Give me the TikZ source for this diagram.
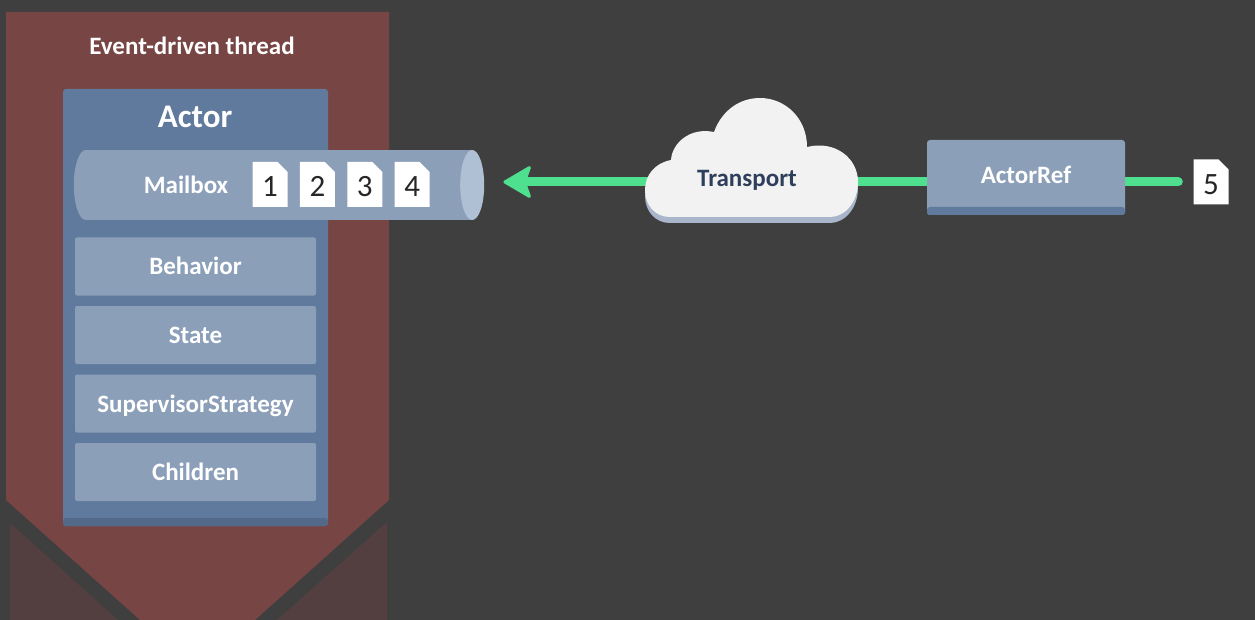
\documentclass[tikz,border=0pt]{standalone}
\usepackage{xcolor}
\usepackage{fontspec}
\setmainfont{Carlito}
\usepackage{tikz}
\usetikzlibrary{shapes,arrows.meta,backgrounds}
\definecolor{slate}{HTML}{3F3F3F}
\definecolor{threadred}{HTML}{784545}
\definecolor{threaddark}{HTML}{533F3F}
\definecolor{actorblue}{HTML}{5F7A9C}
\definecolor{actorband}{HTML}{52698A}
\definecolor{paleblue}{HTML}{8C9FB9}
\definecolor{capblue}{HTML}{B0C0D4}
\definecolor{wiregreen}{HTML}{4EE08F}
\definecolor{cloudshade}{HTML}{A8B5CB}
\definecolor{inkblue}{HTML}{2E3F5C}
\newcommand{\cloudoutline}{(670,217) .. controls (655,217) and (645,205) .. (645,190)
    .. controls (645,175) and (655,163) .. (671,160)
    .. controls (672,143) and (690,127) .. (714,132)
    .. controls (722,110) and (740,98) .. (760,98)
    .. controls (785,98) and (807,118) .. (807,147)
    .. controls (835,140) and (858,158) .. (858,182)
    .. controls (858,202) and (845,217) .. (830,217) -- cycle}
\tikzstyle{block} = [rectangle, fill=paleblue, rounded corners=2pt, text=white,
    font=\fontsize{25}{27}\selectfont\bfseries, minimum width=241pt, minimum height=58pt,
    text height=22pt, text depth=5pt, inner sep=0pt]
\tikzset{banded/.style={rectangle, rounded corners=3pt, inner sep=0pt,
    path picture={\fill [#1] (path picture bounding box.south west)
        rectangle ([yshift=8pt]path picture bounding box.south east);}}}
\tikzstyle{caption} = [text=white, inner sep=0pt, font=\fontsize{25}{27}\selectfont\bfseries]
\tikzstyle{tubeend} = [ellipse, inner sep=0pt, minimum width=24pt, minimum height=70pt]
\tikzstyle{letter} = [chamfered rectangle, chamfered rectangle corners=north east,
    chamfered rectangle sep=5pt, fill=white, text=black!85, inner sep=0pt,
    minimum width=35pt, minimum height=45pt, text height=25pt, text depth=0pt,
    font=\fontsize{31}{33}\selectfont]
\tikzstyle{line} = [draw=wiregreen, line width=9pt]

\begin{document}
\begin{tikzpicture}[x=1pt, y=-1pt, node distance=68.5pt]
    \useasboundingbox (0,0) rectangle (1255,620);
    \begin{pgfonlayer}{background}
    \fill [slate] (0,0) rectangle (1255,620);
    \end{pgfonlayer}

    % Thread
    \fill [threaddark] (10,523) -- (118,620) -- (10,620) -- cycle;
    \fill [threaddark] (387,522) -- (277,620) -- (387,620) -- cycle;
    \fill [threadred] (6,12) -- (389,12) -- (389,500) -- (255,620) -- (140,620) -- (6,500) -- cycle;
    \node [caption] (thread) at (192,45.5) {Event-driven thread};

    % Place nodes
    \node [banded=actorband, fill=actorblue, minimum width=265pt, minimum height=437pt] (actor) at (195.5,307.5) {};
    \node [caption, font=\fontsize{33}{35}\selectfont\bfseries] (title) at (195,117) {Actor};
    \node [rectangle, fill=paleblue, inner sep=0pt, minimum width=386pt, minimum height=70pt] (mailbox) at (279,185) {};
    \node [tubeend, fill=paleblue] (tubeleft) at (mailbox.west) {};
    \node [tubeend, fill=capblue] (tuberight) at (mailbox.east) {};
    \node [caption, text height=22pt, text depth=5pt] (mailtext) at (186,185) {Mailbox};
    \node [block] (behavior) at (195.5,266.5) {Behavior};
    \node [block, below of=behavior] (state) {State};
    \node [block, below of=state] (strategy) {SupervisorStrategy};
    \node [block, below of=strategy] (children) {Children};

    \node [letter] (one) at (270,184.5) {1};
    \node [letter, right of=one, node distance=47.4pt] (two) {2};
    \node [letter, right of=two, node distance=47.4pt] (three) {3};
    \node [letter, right of=three, node distance=47.4pt] (four) {4};

    % Cloud
    \fill [cloudshade] [yshift=-6pt] \cloudoutline;
    \fill [white!95!black] \cloudoutline;
    \node [caption, text=inkblue, text height=16pt, text depth=7pt] (transport) at (747,182) {Transport};

    \node [banded=actorblue, fill=paleblue, text=white, font=\fontsize{25}{27}\selectfont\bfseries,
        text depth=5pt, minimum width=198pt, minimum height=75pt] (actorref) at (1026,177.5) {ActorRef};
    \node [letter] (five) at (1211,182) {5};

    % Draw edges
    \begin{pgfonlayer}{background}
    \path [line, -{Stealth[length=30pt, width=35pt, inset=6pt, round, line width=3pt]}, shorten >=19pt]
        (transport) -- (transport -| tuberight.east);
    \path [line] (actorref |- transport) -- (transport);
    \path [line, line cap=round, shorten <=15pt] (five.west |- transport) -- (actorref |- transport);
    \end{pgfonlayer}
\end{tikzpicture}
\end{document}
